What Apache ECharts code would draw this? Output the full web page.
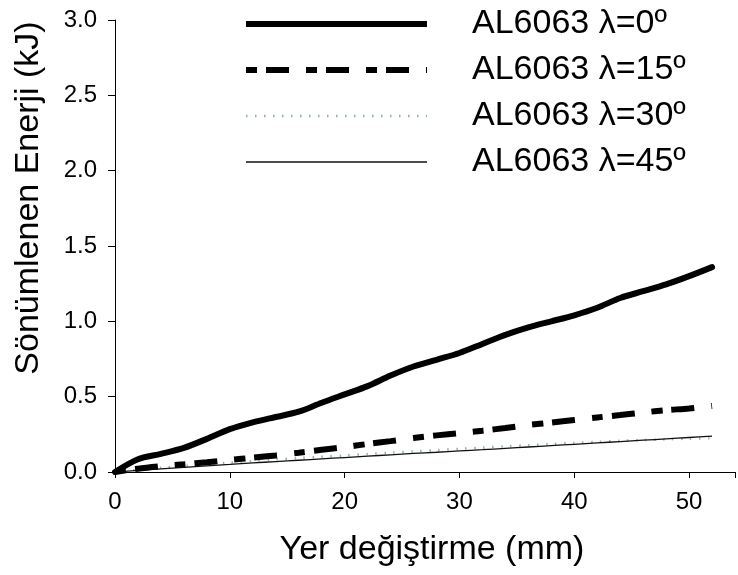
<!DOCTYPE html>
<html>
<head>
<meta charset="utf-8">
<script src="https://cdn.jsdelivr.net/npm/echarts@6/dist/echarts.min.js"></script>
<style>html,body{margin:0;padding:0;background:#fff;}#c{width:738px;height:575px;}</style>
</head>
<body>
<div id="c"></div>
<script>
var xValues = [0,2,4,6,8,10,12,14,16,18,20,22,24,26,28,30,32,34,36,38,40,42,44,46,48,50,52];
var lambda0  = [0,0.085,0.12,0.16,0.22,0.285,0.33,0.365,0.40,0.46,0.515,0.57,0.64,0.70,0.745,0.79,0.85,0.91,0.96,1.00,1.04,1.09,1.155,1.20,1.245,1.30,1.36];
var lambda15 = [0,0.022,0.038,0.051,0.065,0.080,0.095,0.110,0.128,0.147,0.165,0.186,0.205,0.225,0.243,0.258,0.274,0.292,0.312,0.328,0.345,0.362,0.378,0.395,0.410,0.422,0.438];
var lambda30 = [0,0.015,0.028,0.040,0.052,0.062,0.073,0.083,0.092,0.101,0.110,0.119,0.128,0.137,0.145,0.154,0.162,0.170,0.178,0.186,0.193,0.200,0.207,0.212,0.217,0.221,0.224];
var lambda45 = [0,0.011,0.021,0.031,0.041,0.050,0.060,0.069,0.078,0.087,0.096,0.105,0.114,0.123,0.131,0.140,0.148,0.157,0.166,0.175,0.184,0.193,0.202,0.211,0.220,0.229,0.238];
var seriesNames = ['AL6063 λ=0º','AL6063 λ=15º','AL6063 λ=30º','AL6063 λ=45º'];
var xTitle = 'Yer değiştirme (mm)';
var yTitle = 'Sönümlenen Enerji (kJ)';

function pairs(ys){ return xValues.map(function(x,i){ return [x, ys[i]]; }); }

var font = 'Arial, "Liberation Sans", sans-serif';
var chart = echarts.init(document.getElementById('c'), null, {renderer:'canvas'});
chart.setOption({
  animation: false,
  backgroundColor: '#fff',
  grid: {left: 115, top: 20, width: 621, height: 452, containLabel: false},
  legend: {
    orient: 'vertical', left: 243, top: 4, padding: 0,
    itemWidth: 181, itemHeight: 14, itemGap: 6,
    itemStyle: {opacity: 0, borderWidth: 0},
    lineStyle: {width: 'inherit', cap: 'butt'},
    textStyle: {fontFamily: font, fontSize: 34, color: '#000', lineHeight: 40, padding: [0,0,0,40]},
    data: seriesNames
  },
  xAxis: {
    type: 'value', min: 0, max: 54, interval: 10,
    axisLine: {show: true, lineStyle: {color: '#000', width: 1}},
    axisTick: {show: true, length: 6, lineStyle: {color: '#000'}},
    axisLabel: {fontFamily: font, fontSize: 24, color: '#000', margin: 18,
      formatter: function(v){ return v > 50 ? '' : String(v); }},
    splitLine: {show: false}
  },
  yAxis: {
    type: 'value', min: 0, max: 3, interval: 0.5,
    axisLine: {show: true, lineStyle: {color: '#000', width: 1}},
    axisTick: {show: true, length: 7, lineStyle: {color: '#000'}},
    axisLabel: {fontFamily: font, fontSize: 24, color: '#000', margin: 18,
      formatter: function(v){ return v.toFixed(1); }},
    splitLine: {show: false}
  },
  graphic: [
    {type: 'text', x: 432, y: 550, style: {text: xTitle, font: '34px ' + font, fill: '#000', textAlign: 'center', textVerticalAlign: 'middle'}},
    {type: 'text', x: 29, y: 198, rotation: Math.PI / 2, style: {text: yTitle, font: '34px ' + font, fill: '#000', textAlign: 'center', textVerticalAlign: 'middle'}}
  ],
  series: [
    {name: seriesNames[0], type: 'line', data: pairs(lambda0), symbol: 'none', smooth: 0.3,
      lineStyle: {color: '#000', width: 6, cap: 'round'}, itemStyle: {color: '#000'}, z: 4},
    {name: seriesNames[1], type: 'line', data: pairs(lambda15), symbol: 'none', smooth: 0.3,
      lineStyle: {color: '#000', width: 6, type: [11, 9, 23, 17], cap: 'butt'}, itemStyle: {color: '#000'}, z: 3},
    {name: seriesNames[2], type: 'line', data: pairs(lambda30), symbol: 'none', smooth: 0.3,
      lineStyle: {color: '#8fb3b3', width: 2.5, type: [1.5, 7.5]}, itemStyle: {color: '#8fb3b3'}, z: 1},
    {name: seriesNames[3], type: 'line', data: pairs(lambda45), symbol: 'none', smooth: 0.3,
      lineStyle: {color: '#111', width: 1.3}, itemStyle: {color: '#111'}, z: 2}
  ]
});
</script>
</body>
</html>
